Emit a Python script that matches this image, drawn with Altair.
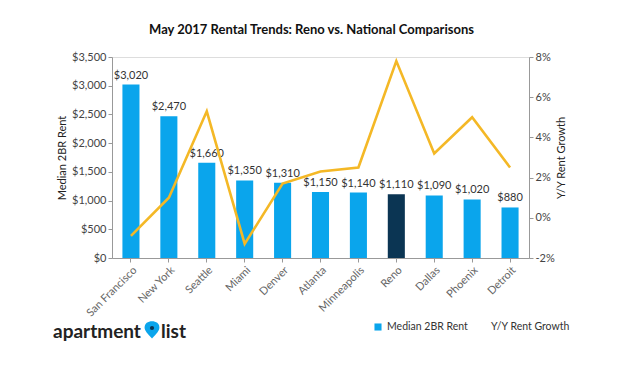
import altair as alt
import pandas as pd

cities = ["San Francisco", "New York", "Seattle", "Miami", "Denver", "Atlanta",
          "Minneapolis", "Reno", "Dallas", "Phoenix", "Detroit"]
rent = [3020, 2470, 1660, 1350, 1310, 1150, 1140, 1110, 1090, 1020, 880]
growth = [-0.9, 1.0, 5.3, -1.3, 1.7, 2.3, 2.5, 7.8, 3.2, 5.0, 2.5]
rent_ticks = [0, 500, 1000, 1500, 2000, 2500, 3000, 3500]
growth_ticks = [-2, 0, 2, 4, 6, 8]
highlight = "Reno"

BLUE = "#0AA5EC"
NAVY = "#0B3553"
GOLD = "#F4B826"
FONT = "Lato"

df = pd.DataFrame({"city": cities, "rent": rent, "growth": growth})
df["kind"] = ["Reno" if c == highlight else "Other" for c in cities]

x = alt.X("city:N", sort=cities, title=None,
          scale=alt.Scale(paddingInner=0.55, paddingOuter=0.275),
          axis=alt.Axis(labelAngle=-45, labelFontSize=11, labelColor="#666",
                        labelFont=FONT, tickColor="#999", domainColor="#999",
                        tickSize=4, labelPadding=2))

y_axis = alt.Axis(values=rent_ticks, tickCount=8, format="$,.0f",
                  grid=False, labelFontSize=11, labelColor="#444",
                  labelFont=FONT, titleFont=FONT, titleFontSize=11,
                  titleFontWeight="normal", titleColor="#222",
                  tickColor="#999", domainColor="#999", tickSize=4,
                  titlePadding=4, labelOverlap=False, labelFlush=False)
y_scale = alt.Scale(domain=[0, 3500], nice=False)

bars = alt.Chart(df).mark_bar().encode(
    x=x,
    y=alt.Y("rent:Q", title="Median 2BR Rent", scale=y_scale, axis=y_axis),
    color=alt.Color("kind:N", scale=alt.Scale(domain=["Other", "Reno"], range=[BLUE, NAVY]),
                    legend=None),
)

labels = alt.Chart(df).mark_text(dy=-9, fontSize=11, color="#333", font=FONT).encode(
    x=alt.X("city:N", sort=cities),
    y=alt.Y("rent:Q", title="Median 2BR Rent", scale=y_scale, axis=y_axis),
    text=alt.Text("rent:Q", format="$,.0f"),
)

line = alt.Chart(df).mark_line(color=GOLD, strokeWidth=2.6).encode(
    x=alt.X("city:N", sort=cities),
    y=alt.Y("growth:Q", title="Y/Y Rent Growth",
            scale=alt.Scale(domain=[-2, 8], nice=False),
            axis=alt.Axis(orient="right", values=growth_ticks,
                          labelExpr="datum.value + '%'", grid=False,
                          labelFontSize=11, labelColor="#444", labelFont=FONT,
                          titleFont=FONT, titleFontSize=11, titleFontWeight="normal",
                          titleColor="#222", tickColor="#999", domainColor="#999",
                          tickSize=4, titlePadding=12, titleAngle=270,
                          labelOverlap=False, labelFlush=False)),
)

left = alt.layer(bars, labels)
main = alt.layer(left, line).resolve_scale(y="independent")

# legend
leg_sq = alt.Chart(pd.DataFrame({"t": ["Median 2BR Rent"]})).mark_square(
    color=BLUE, size=50, opacity=1).encode(x=alt.value(266), y=alt.value(270))
leg_t1 = alt.Chart(pd.DataFrame({"t": ["Median 2BR Rent"]})).mark_text(
    align="left", baseline="middle", fontSize=10.5, color="#333", font=FONT).encode(
    x=alt.value(275), y=alt.value(270), text="t:N")
leg_t2 = alt.Chart(pd.DataFrame({"t": ["Y/Y Rent Growth"]})).mark_text(
    align="left", baseline="middle", fontSize=10.5, color="#333", font=FONT).encode(
    x=alt.value(379), y=alt.value(270), text="t:N")

# logo
logo1 = alt.Chart(pd.DataFrame({"t": ["apartment"]})).mark_text(
    align="left", baseline="alphabetic", fontSize=19, fontWeight="bold",
    color="#222", font=FONT).encode(x=alt.value(-59), y=alt.value(281), text="t:N")
logo2 = alt.Chart(pd.DataFrame({"t": ["list"]})).mark_text(
    align="left", baseline="alphabetic", fontSize=19, fontWeight="bold",
    color="#222", font=FONT).encode(x=alt.value(49), y=alt.value(281), text="t:N")
pin_path = "M0,1 C-0.6,0.4 -1,-0.1 -1,-0.45 C-1,-1 -0.55,-1.3 0,-1.3 C0.55,-1.3 1,-1 1,-0.45 C1,-0.1 0.6,0.4 0,1 Z"
pin = alt.Chart(pd.DataFrame({"t": ["pin"]})).mark_point(
    shape=pin_path, filled=True, color=BLUE, size=220, opacity=1).encode(
    x=alt.value(40), y=alt.value(274))
pin_dot = alt.Chart(pd.DataFrame({"t": ["dot"]})).mark_circle(
    color=NAVY, size=18, opacity=1).encode(x=alt.value(40), y=alt.value(271))

chart = alt.layer(main, leg_sq, leg_t1, leg_t2, logo1, logo2, pin, pin_dot).properties(
    width=417, height=201,
    title=alt.TitleParams("May 2017 Rental Trends: Reno vs. National Comparisons",
                          fontSize=13, fontWeight="bold", font=FONT, color="#111",
                          anchor="middle", offset=14, dx=-9),
    autosize=alt.AutoSizeParams(type="none"),
    padding={"left": 104, "top": 49, "right": 83, "bottom": 100},
).configure_view(stroke=None).configure(background="white")

chart.save("out.html", embed_options={"renderer": "svg", "actions": False})
